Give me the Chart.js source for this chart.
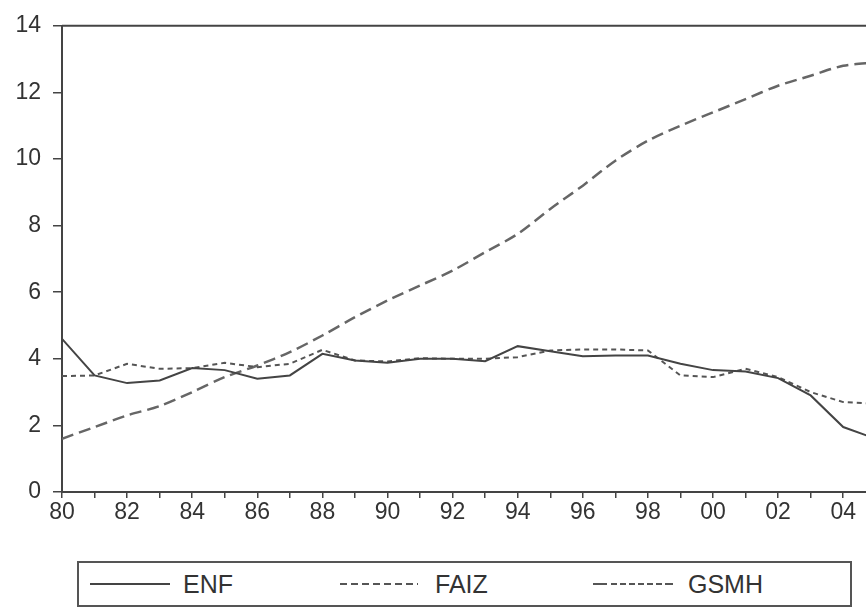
<!DOCTYPE html>
<html>
<head>
<meta charset="utf-8">
<script src="https://cdn.jsdelivr.net/npm/chart.js@4/dist/chart.umd.min.js"></script>
<style>
  body { margin: 0; background: #fff; font-family: "Liberation Sans", Arial, sans-serif; }
  #wrap { position: relative; width: 866px; height: 611px; overflow: hidden; }
  #box { position: absolute; left: 0; top: 0; width: 866px; height: 545px; }
  #legend {
    position: absolute; left: 77px; top: 561px; width: 771px; height: 42px;
    border: 2px solid #555; color: #333; font-size: 25px;
  }
  #legend span { position: absolute; top: 7px; line-height: 28px; }
  #legend svg { position: absolute; top: 19px; }
</style>
</head>
<body>
<div id="wrap">
  <div id="box"><canvas id="lineChart"></canvas></div>
  <div id="legend">
    <svg style="left:11px" width="80" height="4"><line x1="0" y1="2" x2="80" y2="2" stroke="#444" stroke-width="2"/></svg>
    <span style="left:104px">ENF</span>
    <svg style="left:261px" width="78" height="4"><line x1="0" y1="2" x2="78" y2="2" stroke="#555" stroke-width="2" stroke-dasharray="7,4"/></svg>
    <span style="left:356px">FAIZ</span>
    <svg style="left:514px" width="80" height="4"><line x1="0" y1="2" x2="80" y2="2" stroke="#555" stroke-width="2" stroke-dasharray="14,4,6,3,6,3,6,3,6,3,6,3,6,3"/></svg>
    <span style="left:609px">GSMH</span>
  </div>
</div>
<script>
const years = [1980,1981,1982,1983,1984,1985,1986,1987,1988,1989,1990,1991,1992,
               1993,1994,1995,1996,1997,1998,1999,2000,2001,2002,2003,2004,2005];
const enf  = [4.6,3.5,3.27,3.35,3.72,3.66,3.4,3.5,4.15,3.95,3.88,4.0,4.0,
              3.93,4.38,4.23,4.08,4.1,4.1,3.85,3.66,3.62,3.42,2.9,1.95,1.6];
const faiz = [3.48,3.5,3.85,3.7,3.72,3.88,3.75,3.85,4.27,3.95,3.92,4.02,4.0,
              4.0,4.05,4.25,4.28,4.28,4.25,3.5,3.45,3.7,3.45,3.0,2.7,2.65];
const gsmh = [1.6,1.95,2.3,2.58,3.0,3.45,3.8,4.2,4.7,5.25,5.75,6.2,6.65,
              7.2,7.75,8.5,9.2,9.95,10.55,11.0,11.4,11.8,12.2,12.5,12.8,12.9];
const yTicks = [0,2,4,6,8,10,12,14];

const pts = arr => arr.map((v, i) => ({ x: years[i], y: v }));
const tickFont = { family: '"Liberation Sans", Arial, sans-serif', size: 23 };

// top frame line
const frameTop = {
  id: 'frameTop',
  afterDraw(chart) {
    const { ctx, chartArea: a } = chart;
    ctx.save();
    ctx.strokeStyle = '#444';
    ctx.lineWidth = 2;
    ctx.beginPath();
    ctx.moveTo(a.left, a.top);
    ctx.lineTo(a.right, a.top);
    ctx.stroke();
    ctx.restore();
  }
};

const ctx = document.getElementById('lineChart');
new Chart(ctx, {
  type: 'line',
  data: {
    datasets: [
      { label: 'ENF', data: pts(enf), borderColor: '#444', borderWidth: 2, tension: 0 },
      { label: 'FAIZ', data: pts(faiz), borderColor: '#555', borderWidth: 2, borderDash: [5, 4], tension: 0 },
      { label: 'GSMH', data: pts(gsmh), borderColor: '#666', borderWidth: 2.5, borderDash: [12, 6], tension: 0.3 }
    ]
  },
  options: {
    responsive: true,
    maintainAspectRatio: false,
    animation: false,
    elements: { point: { radius: 0 } },
    layout: { padding: { top: 25, right: 0, left: 0, bottom: 0 } },
    plugins: { legend: { display: false }, tooltip: { enabled: false } },
    scales: {
      x: {
        type: 'linear',
        min: 1980,
        max: 2004.7,
        afterFit: axis => { axis.height = 53; },
        grid: { drawOnChartArea: false, drawTicks: true, tickLength: 6, color: '#444', lineWidth: 1.5 },
        border: { color: '#444', width: 2 },
        ticks: {
          stepSize: 1,
          autoSkip: false,
          includeBounds: false,
          maxRotation: 0,
          padding: 1,
          color: '#333',
          font: tickFont,
          callback: v => (v % 2 === 0 ? String(v % 100).padStart(2, '0') : '')
        }
      },
      y: {
        min: 0,
        max: 14,
        afterBuildTicks: axis => { axis.ticks = yTicks.map(v => ({ value: v })); },
        afterFit: axis => { axis.width = 62; },
        grid: { drawOnChartArea: false, drawTicks: true, tickLength: 9, color: '#444', lineWidth: 1.5 },
        border: { color: '#444', width: 2 },
        ticks: {
          padding: 12,
          color: '#333',
          font: tickFont
        }
      }
    }
  },
  plugins: [frameTop]
});
</script>
</body>
</html>
